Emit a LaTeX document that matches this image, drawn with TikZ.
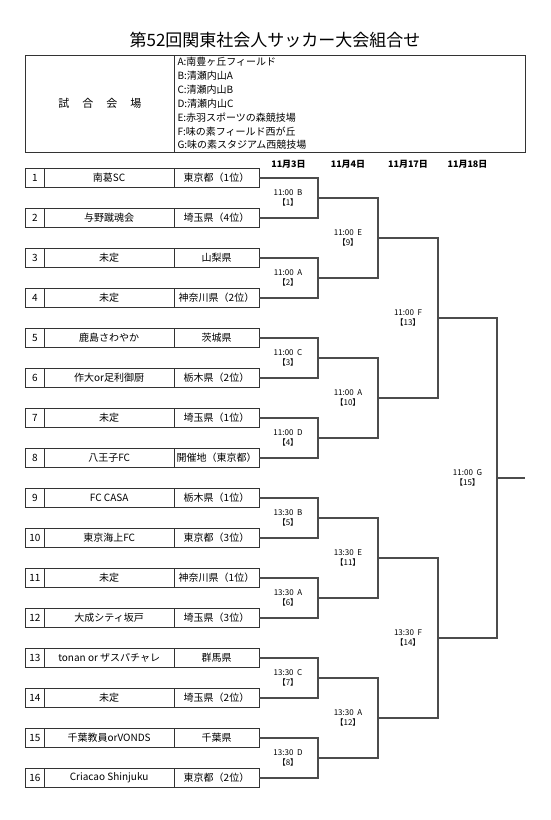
\documentclass[tikz,border=0pt]{standalone}
\usepackage{fontspec}
\setmainfont{Noto Sans CJK JP}
\usetikzlibrary{
  calc,
  positioning
}

\begin{document}
\begin{tikzpicture}[
            x=1pt, y=-1pt,
            node distance=40pt,
            font=\fontsize{10}{12}\selectfont,
            % Celle della tabella squadre
            numcell/.style={rectangle, draw=black!80, line width=0.9pt, minimum width=18.6pt, minimum height=19.5pt, inner sep=0pt, outer sep=0pt, text centered},
            teamcell/.style={numcell, minimum width=129.7pt},
            prefcell/.style={numcell, minimum width=85pt},
            venuehead/.style={numcell, minimum width=148.3pt, minimum height=97pt, font=\fontsize{11}{12}\selectfont},
            venuelist/.style={numcell, minimum height=97pt, text width=344pt, inner xsep=3.5pt, align=left, font=\fontsize{10}{13.9}\selectfont},
            matchlbl/.style={align=center, inner sep=0pt, font=\fontsize{8}{10}\selectfont},
            datelbl/.style={inner sep=0pt, font=\fontsize{9}{10}\selectfont\bfseries},
            wire/.style={draw=black!70, line width=1.1pt}
        ]
        \useasboundingbox (0,0) rectangle (550,820);

        % Titolo
        \node (title) at (275,40) {\fontsize{17}{20}\selectfont 第52回関東社会人サッカー大会組合せ};

        % Tabella campi
        \node (venue) [venuehead] at (99.85,103.5) {試\hspace{13pt}合\hspace{13pt}会\hspace{13pt}場};
        \node (venues) [venuelist, right=0pt of venue] {A:南豊ヶ丘フィールド\\B:清瀬内山A\\C:清瀬内山B\\D:清瀬内山C\\E:赤羽スポーツの森競技場\\F:味の素フィールド西が丘\\G:味の素スタジアム西競技場};

        % Date
        \node (d1) [datelbl] at (288.5,164) {11月3日};
        \node (d2) [datelbl] at (348,164) {11月4日};
        \node (d3) [datelbl] at (408,164) {11月17日};
        \node (d4) [datelbl] at (467.5,164) {11月18日};

        % Squadre
        \node (num1) [numcell] at (35,178) {1};
        \node (team1) [teamcell, right=0pt of num1] {南葛SC};
        \node (pref1) [prefcell, right=0pt of team1] {東京都（1位）};
        \node (num2) [numcell, below of=num1] {2};
        \node (team2) [teamcell, right=0pt of num2] {与野蹴魂会};
        \node (pref2) [prefcell, right=0pt of team2] {埼玉県（4位）};
        \node (num3) [numcell, below of=num2] {3};
        \node (team3) [teamcell, right=0pt of num3] {未定};
        \node (pref3) [prefcell, right=0pt of team3] {山梨県};
        \node (num4) [numcell, below of=num3] {4};
        \node (team4) [teamcell, right=0pt of num4] {未定};
        \node (pref4) [prefcell, right=0pt of team4] {神奈川県（2位）};
        \node (num5) [numcell, below of=num4] {5};
        \node (team5) [teamcell, right=0pt of num5] {鹿島さわやか};
        \node (pref5) [prefcell, right=0pt of team5] {茨城県};
        \node (num6) [numcell, below of=num5] {6};
        \node (team6) [teamcell, right=0pt of num6] {作大or足利御厨};
        \node (pref6) [prefcell, right=0pt of team6] {栃木県（2位）};
        \node (num7) [numcell, below of=num6] {7};
        \node (team7) [teamcell, right=0pt of num7] {未定};
        \node (pref7) [prefcell, right=0pt of team7] {埼玉県（1位）};
        \node (num8) [numcell, below of=num7] {8};
        \node (team8) [teamcell, right=0pt of num8] {八王子FC};
        \node (pref8) [prefcell, right=0pt of team8] {開催地（東京都）};
        \node (num9) [numcell, below of=num8] {9};
        \node (team9) [teamcell, right=0pt of num9] {FC CASA};
        \node (pref9) [prefcell, right=0pt of team9] {栃木県（1位）};
        \node (num10) [numcell, below of=num9] {10};
        \node (team10) [teamcell, right=0pt of num10] {東京海上FC};
        \node (pref10) [prefcell, right=0pt of team10] {東京都（3位）};
        \node (num11) [numcell, below of=num10] {11};
        \node (team11) [teamcell, right=0pt of num11] {未定};
        \node (pref11) [prefcell, right=0pt of team11] {神奈川県（1位）};
        \node (num12) [numcell, below of=num11] {12};
        \node (team12) [teamcell, right=0pt of num12] {大成シティ坂戸};
        \node (pref12) [prefcell, right=0pt of team12] {埼玉県（3位）};
        \node (num13) [numcell, below of=num12] {13};
        \node (team13) [teamcell, right=0pt of num13] {tonan or ザスパチャレ};
        \node (pref13) [prefcell, right=0pt of team13] {群馬県};
        \node (num14) [numcell, below of=num13] {14};
        \node (team14) [teamcell, right=0pt of num14] {未定};
        \node (pref14) [prefcell, right=0pt of team14] {埼玉県（2位）};
        \node (num15) [numcell, below of=num14] {15};
        \node (team15) [teamcell, right=0pt of num15] {千葉教員orVONDS};
        \node (pref15) [prefcell, right=0pt of team15] {千葉県};
        \node (num16) [numcell, below of=num15] {16};
        \node (team16) [teamcell, right=0pt of num16] {Criacao Shinjuku};
        \node (pref16) [prefcell, right=0pt of team16] {東京都（2位）};

        % Punti del tabellone
        \coordinate (m1) at (318,198);
        \coordinate (m2) at (318,278);
        \coordinate (m3) at (318,358);
        \coordinate (m4) at (318,438);
        \coordinate (m5) at (318,518);
        \coordinate (m6) at (318,598);
        \coordinate (m7) at (318,678);
        \coordinate (m8) at (318,758);
        \coordinate (m9) at (378,238);
        \coordinate (m10) at (378,398);
        \coordinate (m11) at (378,558);
        \coordinate (m12) at (378,718);
        \coordinate (m13) at (438,318);
        \coordinate (m14) at (438,638);
        \coordinate (m15) at (497,478);
        \coordinate (final) at (525,478);

        % Orari e numeri partita
        \node (g1) [matchlbl] at ([xshift=-30pt]m1) {11:00~~B\\【1】};
        \node (g2) [matchlbl] at ([xshift=-30pt]m2) {11:00~~A\\【2】};
        \node (g3) [matchlbl] at ([xshift=-30pt]m3) {11:00~~C\\【3】};
        \node (g4) [matchlbl] at ([xshift=-30pt]m4) {11:00~~D\\【4】};
        \node (g5) [matchlbl] at ([xshift=-30pt]m5) {13:30~~B\\【5】};
        \node (g6) [matchlbl] at ([xshift=-30pt]m6) {13:30~~A\\【6】};
        \node (g7) [matchlbl] at ([xshift=-30pt]m7) {13:30~~C\\【7】};
        \node (g8) [matchlbl] at ([xshift=-30pt]m8) {13:30~~D\\【8】};
        \node (g9) [matchlbl] at ([xshift=-30pt]m9) {11:00~~E\\【9】};
        \node (g10) [matchlbl] at ([xshift=-30pt]m10) {11:00~~A\\【10】};
        \node (g11) [matchlbl] at ([xshift=-30pt]m11) {13:30~~E\\【11】};
        \node (g12) [matchlbl] at ([xshift=-30pt]m12) {13:30~~A\\【12】};
        \node (g13) [matchlbl] at ([xshift=-30pt]m13) {11:00~~F\\【13】};
        \node (g14) [matchlbl] at ([xshift=-30pt]m14) {13:30~~F\\【14】};
        \node (g15) [matchlbl] at ([xshift=-29.5pt]m15) {11:00~~G\\【15】};

        % Collegamenti primo turno
        \draw [wire] (pref1.east) -| (m1);
        \draw [wire] (pref2.east) -| (m1);
        \draw [wire] (pref3.east) -| (m2);
        \draw [wire] (pref4.east) -| (m2);
        \draw [wire] (pref5.east) -| (m3);
        \draw [wire] (pref6.east) -| (m3);
        \draw [wire] (pref7.east) -| (m4);
        \draw [wire] (pref8.east) -| (m4);
        \draw [wire] (pref9.east) -| (m5);
        \draw [wire] (pref10.east) -| (m5);
        \draw [wire] (pref11.east) -| (m6);
        \draw [wire] (pref12.east) -| (m6);
        \draw [wire] (pref13.east) -| (m7);
        \draw [wire] (pref14.east) -| (m7);
        \draw [wire] (pref15.east) -| (m8);
        \draw [wire] (pref16.east) -| (m8);

        % Turni successivi
        \draw [wire] (m1) -| (m9);
        \draw [wire] (m2) -| (m9);
        \draw [wire] (m3) -| (m10);
        \draw [wire] (m4) -| (m10);
        \draw [wire] (m5) -| (m11);
        \draw [wire] (m6) -| (m11);
        \draw [wire] (m7) -| (m12);
        \draw [wire] (m8) -| (m12);
        \draw [wire] (m9) -| (m13);
        \draw [wire] (m10) -| (m13);
        \draw [wire] (m11) -| (m14);
        \draw [wire] (m12) -| (m14);
        \draw [wire] (m13) -| (m15);
        \draw [wire] (m14) -| (m15);
        \draw [wire] (m15) -- (final);

    \end{tikzpicture}
\end{document}
